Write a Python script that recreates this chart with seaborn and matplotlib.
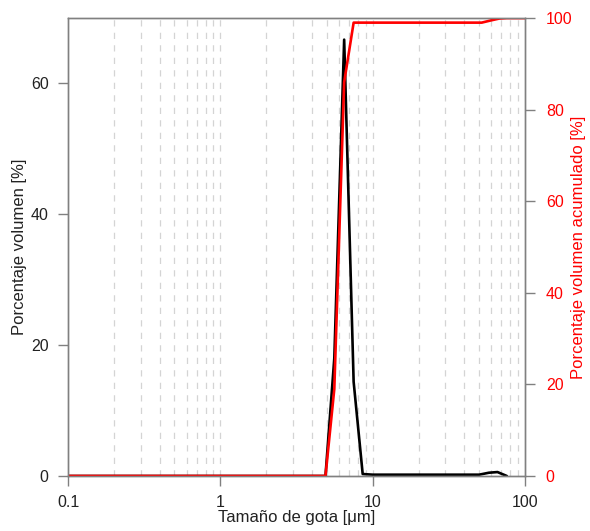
import matplotlib
matplotlib.use("Agg")
import matplotlib.pyplot as plt
import seaborn as sns
import pandas as pd
from matplotlib.ticker import LogLocator, FixedLocator, NullFormatter

# Droplet size distribution (volume %) and cumulative volume
size_um = [0.1, 0.5, 1.0, 2.0, 4.9, 5.6, 6.5, 7.5, 8.6, 10.0, 20.0, 40.0, 50.0, 58.0, 66.0, 76.0]
volume_pct = [0.0, 0.0, 0.0, 0.0, 0.0, 18.0, 66.7, 14.4, 0.3, 0.2, 0.2, 0.2, 0.2, 0.5, 0.6, 0.0]

cum_size_um = [0.1, 0.5, 1.0, 2.0, 4.9, 5.6, 6.5, 7.5, 8.6, 10.0, 20.0, 40.0, 52.0, 60.0, 68.0, 76.0, 100.0]
cum_pct = [0.0, 0.0, 0.0, 0.0, 0.0, 19.0, 86.0, 99.0, 99.0, 99.0, 99.0, 99.0, 99.0, 99.5, 99.9, 100.0, 100.0]

x_ticks = [0.1, 1, 10, 100]
x_ticklabels = ["0.1", "1", "10", "100"]
left_ticks = [0, 20, 40, 60]
right_ticks = [0, 20, 40, 60, 80, 100]

df_vol = pd.DataFrame({"size": size_um, "vol": volume_pct})
df_cum = pd.DataFrame({"size": cum_size_um, "cum": cum_pct})

sns.set_theme(style="white")
plt.rcParams["font.family"] = ["Liberation Sans", "DejaVu Sans"]

fig = plt.figure(figsize=(5.9, 5.31), dpi=100)
ax = fig.add_axes([0.1153, 0.1036, 0.7745, 0.8624])
ax2 = ax.twinx()

sns.lineplot(data=df_vol, x="size", y="vol", ax=ax, color="black", linewidth=1.9)
sns.lineplot(data=df_cum, x="size", y="cum", ax=ax2, color="#ff0000", linewidth=1.9)

ax.set_xscale("log")
ax.set_xlim(0.1, 100)
ax.set_ylim(0, 70)
ax2.set_ylim(0, 100)

# Vertical dashed grid at every decade subdivision
grid_pos = []
for dec in [0.1, 1, 10]:
    for k in range(1, 10):
        grid_pos.append(dec * k)
for gx in grid_pos[1:]:
    ax.axvline(gx, color="#d4d4d4", linestyle=(0, (5, 5)), linewidth=0.9, zorder=0)

ax.xaxis.set_major_locator(FixedLocator(x_ticks))
ax.set_xticklabels(x_ticklabels)
ax.xaxis.set_minor_locator(LogLocator(base=10, subs=[]))
ax.xaxis.set_minor_formatter(NullFormatter())
ax.set_yticks(left_ticks)
ax2.set_yticks(right_ticks)

spine_col = "#808080"
for a in (ax, ax2):
    for s in a.spines.values():
        s.set_color(spine_col)
        s.set_linewidth(1.0)

ax.tick_params(axis="x", which="major", direction="out", length=7, width=1, color=spine_col,
               labelsize=11.5, labelcolor="#222222", bottom=True, pad=7)
ax.tick_params(axis="x", which="minor", length=0)
ax.tick_params(axis="y", direction="out", length=7, width=1, color=spine_col,
               labelsize=11.5, labelcolor="#222222", left=True, pad=7)
ax2.tick_params(axis="y", direction="out", length=7, width=1, color=spine_col,
                labelsize=11.5, labelcolor="#ff0000", right=True, pad=8)

ax.set_xlabel("Tamaño de gota [\u03bcm]", fontsize=12, color="#222222", labelpad=0)
ax.set_ylabel("Porcentaje volumen [%]", fontsize=12, color="#222222", labelpad=3)
ax2.set_ylabel("Porcentaje volumen acumulado [%]", fontsize=12, color="#ff0000")
ax2.yaxis.set_label_coords(1.1, 0.5)

fig.savefig("out.png", dpi=100)
